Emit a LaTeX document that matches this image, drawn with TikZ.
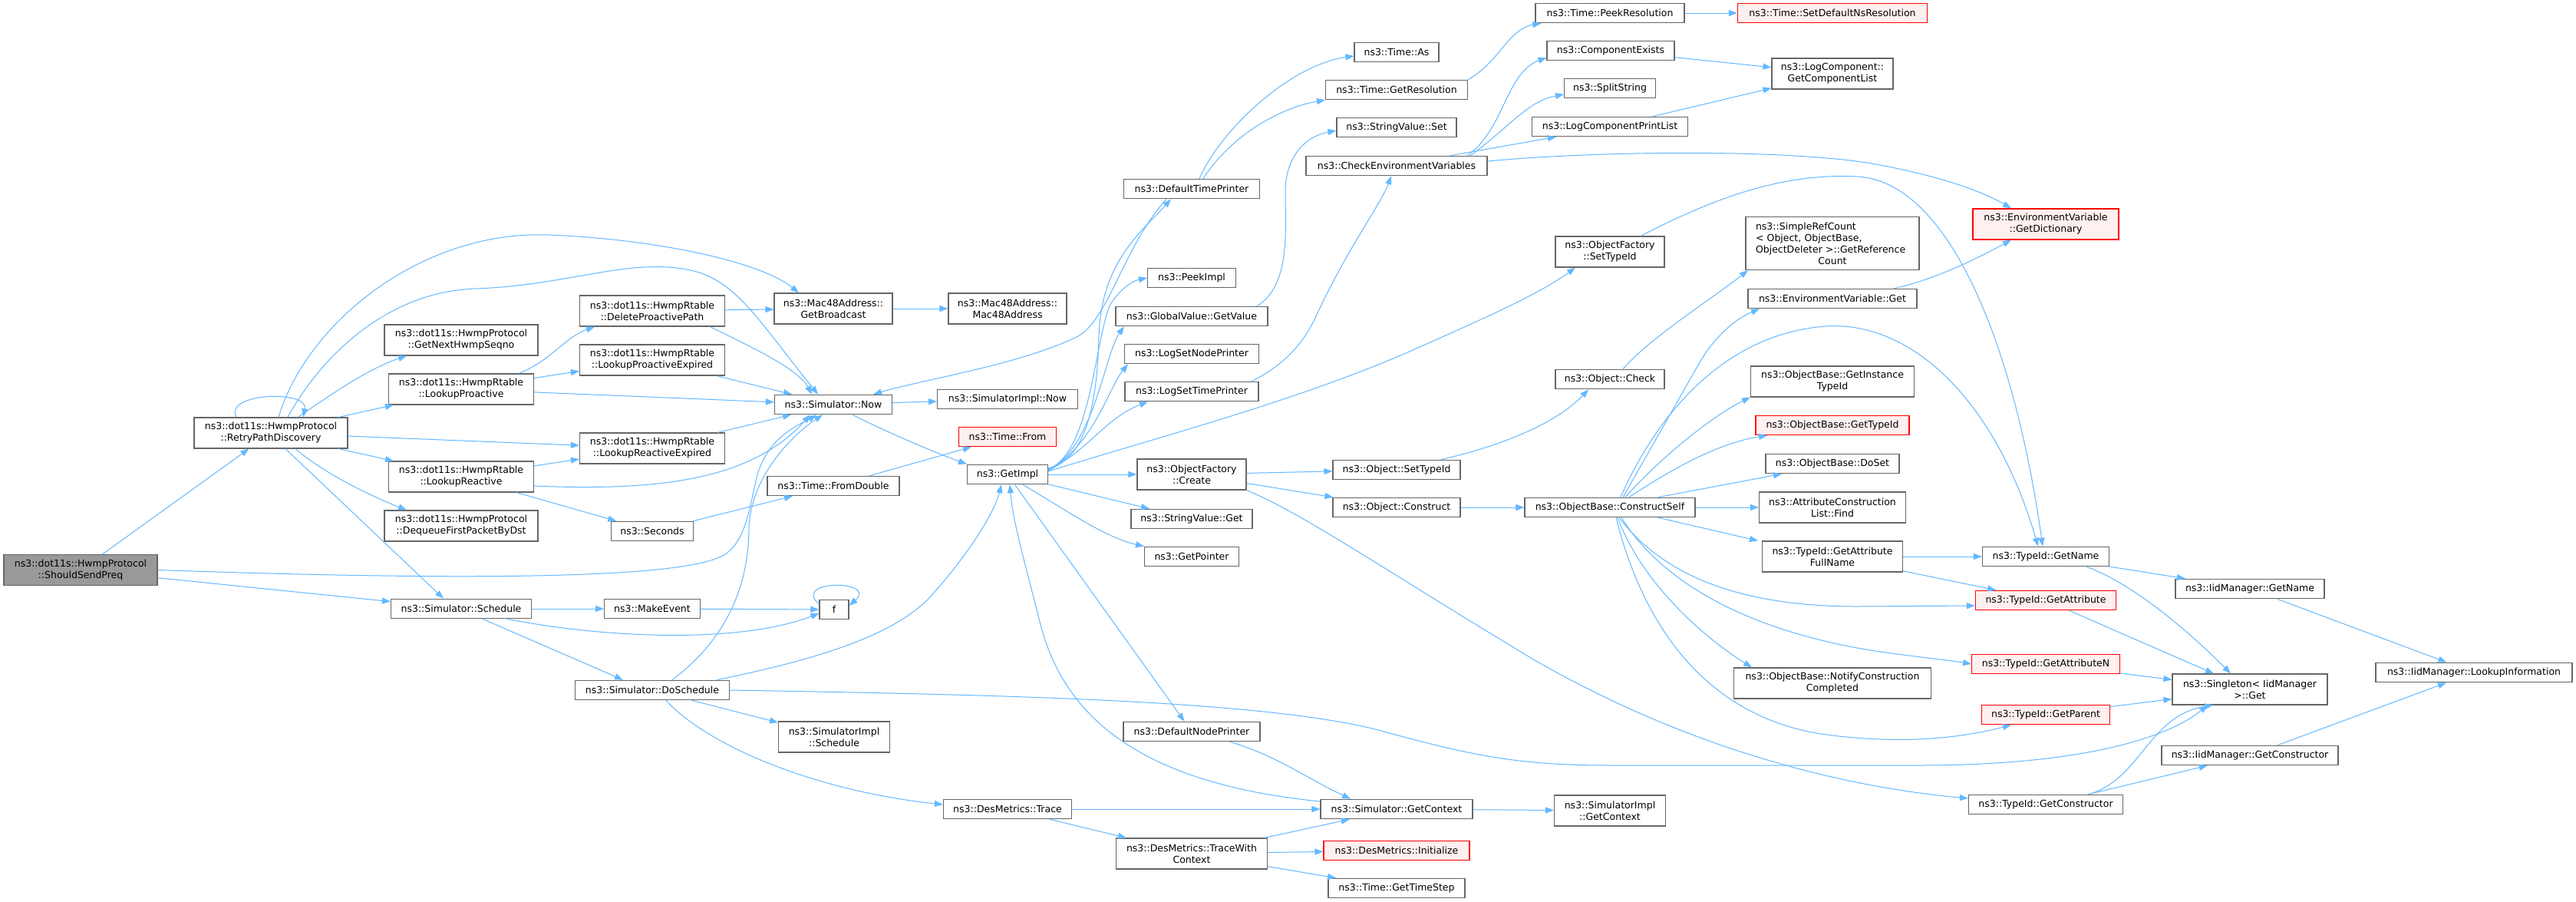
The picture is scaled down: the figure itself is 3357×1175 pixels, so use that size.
\documentclass[tikz,border=0pt]{standalone}
\usepackage{fontspec}
\setmainfont{DejaVu Sans}
\usetikzlibrary{arrows.meta}
\definecolor{edgec}{HTML}{63B8FF}
\definecolor{ndb}{HTML}{666666}
\definecolor{rootf}{HTML}{999999}
\definecolor{redb}{HTML}{FF0000}
\definecolor{redf}{HTML}{FFF0F0}
\tikzset{
  nd/.style={draw=ndb, fill=white, line width=1.1pt, rectangle, minimum height=25.5pt, inner sep=3pt, align=center, font=\fontsize{12.5}{15}\selectfont},
  two/.style={minimum height=40pt},
  rnd/.style={draw=redb, fill=redf},
  rootnd/.style={fill=rootf},
  edg/.style={draw=edgec, line width=1pt, -{Triangle[length=11pt,width=8pt]}}
}
\begin{document}
\begin{tikzpicture}[x=1pt,y=-1pt]
\useasboundingbox (0,0) rectangle (3357,1175);
\fill[white] (0,0) rectangle (3357,1175);
% rank 0-2
\node[nd,two,rootnd,minimum width=200pt] (ssp) at (105,742.5) {ns3::dot11s::HwmpProtocol\\::ShouldSendPreq};
\node[nd,two,minimum width=200pt] (rpd) at (353,564) {ns3::dot11s::HwmpProtocol\\::RetryPathDiscovery};
\node[nd,two,minimum width=200pt] (gnh) at (601,443) {ns3::dot11s::HwmpProtocol\\::GetNextHwmpSeqno};
\node[nd,two,minimum width=189pt] (lp) at (601,507) {ns3::dot11s::HwmpRtable\\::LookupProactive};
\node[nd,two,minimum width=189pt] (lr) at (601,621) {ns3::dot11s::HwmpRtable\\::LookupReactive};
\node[nd,two,minimum width=200pt] (dq) at (601,685) {ns3::dot11s::HwmpProtocol\\::DequeueFirstPacketByDst};
\node[nd,minimum width=183pt] (sch) at (601,793) {ns3::Simulator::Schedule};
% rank 3
\node[nd,two,minimum width=189pt] (dpp) at (850,405) {ns3::dot11s::HwmpRtable\\::DeleteProactivePath};
\node[nd,two,minimum width=189pt] (lpe) at (850,469) {ns3::dot11s::HwmpRtable\\::LookupProactiveExpired};
\node[nd,two,minimum width=189pt] (lre) at (850,584) {ns3::dot11s::HwmpRtable\\::LookupReactiveExpired};
\node[nd,minimum width=107pt] (sec) at (850,692) {ns3::Seconds};
\node[nd,minimum width=125pt] (mke) at (850,793) {ns3::MakeEvent};
\node[nd,minimum width=201pt] (dos) at (850,899) {ns3::Simulator::DoSchedule};
% rank 4
\node[nd,two,minimum width=154pt] (gb) at (1086,402) {ns3::Mac48Address::\\GetBroadcast};
\node[nd,minimum width=153pt] (now) at (1086,527) {ns3::Simulator::Now};
\node[nd,minimum width=172pt] (fd) at (1086,633) {ns3::Time::FromDouble};
\node[nd,minimum width=38pt] (f) at (1087,794) {f};
\node[nd,two,minimum width=145pt] (sis) at (1087,960) {ns3::SimulatorImpl\\::Schedule};
% rank 5
\node[nd,two,minimum width=154pt] (mac) at (1313,402) {ns3::Mac48Address::\\Mac48Address};
\node[nd,minimum width=183pt] (sin) at (1313,520) {ns3::SimulatorImpl::Now};
\node[nd,rnd,minimum width=127pt] (tf) at (1313,569) {ns3::Time::From};
\node[nd,minimum width=105pt] (gi) at (1313,618) {ns3::GetImpl};
\node[nd,minimum width=167pt] (dmt) at (1313,1054) {ns3::DesMetrics::Trace};
% rank 6
\node[nd,minimum width=177pt] (dtp) at (1553,246) {ns3::DefaultTimePrinter};
\node[nd,minimum width=115pt] (pi) at (1553,362) {ns3::PeekImpl};
\node[nd,minimum width=198pt] (gv) at (1553,412) {ns3::GlobalValue::GetValue};
\node[nd,minimum width=175pt] (lsn) at (1553,461) {ns3::LogSetNodePrinter};
\node[nd,minimum width=174pt] (lst) at (1553,510) {ns3::LogSetTimePrinter};
\node[nd,two,minimum width=142pt] (ofc) at (1553,618) {ns3::ObjectFactory\\::Create};
\node[nd,minimum width=158pt] (svg) at (1553,676) {ns3::StringValue::Get};
\node[nd,minimum width=123pt] (gp) at (1553,725) {ns3::GetPointer};
\node[nd,minimum width=178pt] (dnp) at (1553,953) {ns3::DefaultNodePrinter};
\node[nd,two,minimum width=197pt] (twc) at (1553,1112) {ns3::DesMetrics::TraceWith\\Context};
% rank 7
\node[nd,minimum width=110pt] (tas) at (1820,68) {ns3::Time::As};
\node[nd,minimum width=185pt] (tgr) at (1820,117) {ns3::Time::GetResolution};
\node[nd,minimum width=156pt] (svs) at (1820,166) {ns3::StringValue::Set};
\node[nd,minimum width=236pt] (cev) at (1820,216) {ns3::CheckEnvironmentVariables};
\node[nd,minimum width=166pt] (ost) at (1820,612) {ns3::Object::SetTypeId};
\node[nd,minimum width=166pt] (oc) at (1820,661) {ns3::Object::Construct};
\node[nd,minimum width=198pt] (sgc) at (1820,1054) {ns3::Simulator::GetContext};
\node[nd,rnd,minimum width=190pt] (dmi) at (1820,1108) {ns3::DesMetrics::Initialize};
\node[nd,minimum width=178pt] (gts) at (1820,1157) {ns3::Time::GetTimeStep};
% rank 8
\node[nd,minimum width=194pt] (tpr) at (2098,17) {ns3::Time::PeekResolution};
\node[nd,minimum width=166pt] (ce) at (2099,66) {ns3::ComponentExists};
\node[nd,minimum width=119pt] (ss) at (2098,115) {ns3::SplitString};
\node[nd,minimum width=203pt] (lcp) at (2098,165) {ns3::LogComponentPrintList};
\node[nd,two,minimum width=142pt] (ofs) at (2098,328) {ns3::ObjectFactory\\::SetTypeId};
\node[nd,minimum width=142pt] (och) at (2098,494) {ns3::Object::Check};
\node[nd,minimum width=222pt] (cs) at (2098,661) {ns3::ObjectBase::ConstructSelf};
\node[nd,two,minimum width=145pt] (sig) at (2098,1056) {ns3::SimulatorImpl\\::GetContext};
% rank 9
\node[nd,rnd,minimum width=247pt] (sdn) at (2388,17) {ns3::Time::SetDefaultNsResolution};
\node[nd,two,minimum width=158pt] (gcl) at (2388,96) {ns3::LogComponent::\\GetComponentList};
\node[nd,minimum height=69pt,text width=200pt,inner xsep=13pt,align=left] (src) at (2388,317) {ns3::SimpleRefCount\\{}< Object, ObjectBase,\\ObjectDeleter >::GetReference\\\hfill Count\hfill\null};
\node[nd,minimum width=220pt] (evg) at (2388,389) {ns3::EnvironmentVariable::Get};
\node[nd,two,minimum width=213pt] (git) at (2388,497) {ns3::ObjectBase::GetInstance\\TypeId};
\node[nd,rnd,minimum width=200pt] (gti) at (2388,554) {ns3::ObjectBase::GetTypeId};
\node[nd,minimum width=174pt] (dos2) at (2388,604) {ns3::ObjectBase::DoSet};
\node[nd,two,minimum width=191pt] (acl) at (2388,661) {ns3::AttributeConstruction\\List::Find};
\node[nd,two,minimum width=183pt] (gaf) at (2388,725) {ns3::TypeId::GetAttribute\\FullName};
\node[nd,two,minimum width=257pt] (ncc) at (2388,890) {ns3::ObjectBase::NotifyConstruction\\Completed};
% rank 10
\node[nd,two,rnd,minimum width=190pt] (gd) at (2666,292) {ns3::EnvironmentVariable\\::GetDictionary};
\node[nd,minimum width=165pt] (gn) at (2666,725) {ns3::TypeId::GetName};
\node[nd,rnd,minimum width=183pt] (ga) at (2666,782) {ns3::TypeId::GetAttribute};
\node[nd,rnd,minimum width=193pt] (gan) at (2666,865) {ns3::TypeId::GetAttributeN};
\node[nd,rnd,minimum width=167pt] (gpar) at (2666,931) {ns3::TypeId::GetParent};
\node[nd,minimum width=201pt] (tgc) at (2666,1048) {ns3::TypeId::GetConstructor};
% rank 11-12
\node[nd,minimum width=194pt] (ign) at (2932,767) {ns3::IidManager::GetName};
\node[nd,two,minimum width=202pt] (sgt) at (2932,898) {ns3::Singleton< IidManager\\ >::Get};
\node[nd,minimum width=230pt] (igc) at (2932,984) {ns3::IidManager::GetConstructor};
\node[nd,minimum width=256pt] (lki) at (3224,876) {ns3::IidManager::LookupInformation};

% ---------------- edges ----------------
\draw[edg] (ssp) -- (rpd);
\draw[edg] (ssp.east) .. controls (650,758) and (900,752) .. (945,722) .. controls (975,702) and (978,650) .. (988,615) .. controls (1005,565) and (1045,552) .. ([xshift=-22pt]now.south);
\draw[edg] (ssp) -- (sch);
\draw[edg] ([xshift=-45pt]rpd.north) .. controls ([xshift=-62pt,yshift=32pt]rpd.north) and ([xshift=50pt,yshift=36pt]rpd.north) .. ([xshift=42pt]rpd.north);
\draw[edg] ([xshift=10pt]rpd.north) .. controls (400,420) and (550,300) .. (714,306) .. controls (850,311) and (990,340) .. ([xshift=-45pt]gb.north);
\draw[edg] ([xshift=22pt]rpd.north) .. controls (415,470) and (500,380) .. (620,376) .. controls (740,372) and (820,335) .. (900,352) .. controls (960,365) and (990,420) .. ([xshift=-20pt]now.north);
\draw[edg] ([xshift=35pt]rpd.north) .. controls (430,515) and (480,480) .. ([xshift=-71pt]gnh.south);
\draw[edg] ([xshift=88pt]rpd.north) -- ([xshift=-88pt]lp.south);
\draw[edg] (rpd) -- (lre);
\draw[edg] ([xshift=88pt]rpd.south) -- ([xshift=-88pt]lr.north);
\draw[edg] ([xshift=32pt]rpd.south) .. controls (420,615) and (480,645) .. ([xshift=-71pt]dq.north);
\draw[edg] ([xshift=19pt]rpd.south) -- ([xshift=-23pt]sch.north);
\draw[edg] ([xshift=75pt]lp.north) .. controls (718,470) and (735,440) .. ([xshift=-75pt]dpp.south);
\draw[edg] (lp) -- (lpe);
\draw[edg] (lp) -- (now);
\draw[edg] (lr) -- (lre);
\draw[edg] ([yshift=-12pt]lr.east) .. controls (860,640) and (980,625) .. ([xshift=-30pt]now.south);
\draw[edg] (lr) -- (sec);
\draw[edg] (dpp) -- (gb);
\draw[edg] ([xshift=75pt]dpp.south) .. controls (975,450) and (1040,480) .. ([xshift=-28pt]now.north);
\draw[edg] (lpe) -- (now);
\draw[edg] (lre) -- (now);
\draw[edg] (gb) -- (mac);
\draw[edg] (sec) -- (fd);
\draw[edg] (fd) -- (tf);
\draw[edg] (now) -- (sin);
\draw[edg] ([xshift=25pt]now.south) .. controls (1160,565) and (1220,590) .. (gi.north west);
\draw[edg] (sch) -- (mke);
\draw[edg] ([xshift=60pt]sch.south) .. controls (780,830) and (960,840) .. ([yshift=-5pt]f.west);
\draw[edg] (mke) -- (f);
\draw[edg] ([yshift=7pt]f.west) .. controls (1030,755) and (1145,755) .. ([yshift=5pt]f.east);
\draw[edg] ([xshift=28pt]sch.south) -- ([xshift=-38pt]dos.north);
\draw[edg] ([xshift=26pt]dos.north) .. controls (950,830) and (975,760) .. (976,690) .. controls (977,620) and (1035,565) .. ([xshift=-14pt]now.south);
\draw[edg] ([xshift=84pt]dos.north) .. controls (1060,860) and (1160,830) .. (1210,780) .. controls (1260,725) and (1295,670) .. ([xshift=-8pt]gi.south);
\draw[edg] (dos) -- (sis);
\draw[edg] ([xshift=18pt]dos.south) .. controls (920,970) and (1060,1030) .. ([yshift=6pt]dmt.west);
\draw[edg] (dos.east) .. controls (1300,905) and (1650,912) .. (1800,952) .. controls (1920,985) and (1980,997) .. (2100,997) -- (2500,997) .. controls (2700,997) and (2820,965) .. ([xshift=-55pt]sgt.south);
% GetImpl bundle
\draw[edg] ([yshift=8pt]gi.east) .. controls (1420,598) and (1430,510) .. (1432,440) .. controls (1434,340) and (1490,300) .. ([xshift=-27pt]dtp.south);
\draw[edg] ([xshift=-33pt]dtp.south) .. controls (1465,320) and (1445,415) .. (1405,438) .. controls (1330,475) and (1200,495) .. ([xshift=52pt]now.north);
\draw[edg] ([yshift=7pt]gi.east) .. controls (1425,590) and (1428,420) .. (1450,392) .. controls (1462,375) and (1476,366) .. (pi.west);
\draw[edg] ([yshift=6pt]gi.east) .. controls (1425,585) and (1440,460) .. ([xshift=-88pt]gv.south);
\draw[edg] ([yshift=5pt]gi.east) .. controls (1425,580) and (1445,505) .. ([xshift=-83pt]lsn.south);
\draw[edg] ([yshift=5pt]gi.east) .. controls (1420,585) and (1440,545) .. ([xshift=-57pt]lst.south);
\draw[edg] ([yshift=4pt]gi.east) .. controls (1500,572) and (1700,520) .. (1850,452) .. controls (1950,408) and (2010,380) .. ([xshift=-45pt]ofs.south);
\draw[edg] (gi) -- (ofc);
\draw[edg] (gi) -- (svg);
\draw[edg] ([xshift=20pt]gi.south) .. controls (1390,665) and (1440,700) .. (gp.north west);
\draw[edg] (gi) -- (dnp);
\draw[edg] ([yshift=10pt]sgc.west) .. controls (1480,1020) and (1385,930) .. (1355,810) .. controls (1335,730) and (1320,680) .. ([xshift=3pt]gi.south);
\draw[edg] (sgc) -- (sig);
\draw[edg] ([xshift=50pt]dnp.south) .. controls (1665,985) and (1705,1015) .. ([xshift=-60pt]sgc.north);
\draw[edg] (dmt) -- (sgc);
\draw[edg] (dmt) -- (twc);
\draw[edg] (twc) -- (sgc);
\draw[edg] (twc) -- (dmi);
\draw[edg] (twc) -- (gts);
% upper middle
\draw[edg] ([xshift=10pt]dtp.north) .. controls (1590,170) and (1680,85) .. ([yshift=-5pt]tas.west);
\draw[edg] ([xshift=15pt]dtp.north) .. controls (1605,175) and (1670,140) .. (tgr.south west);
\draw[edg] (tgr.north east) .. controls (1955,80) and (1965,38) .. ([xshift=8pt]tpr.south west);
\draw[edg] (tpr) -- (sdn);
\draw[edg] ([xshift=85pt]gv.north) .. controls (1682,372) and (1675,300) .. (1675,250) .. controls (1675,205) and (1700,178) .. ([yshift=-4pt]svs.west);
\draw[edg] ([xshift=78pt]lst.north) .. controls (1675,475) and (1700,445) .. (1715,412) .. controls (1755,325) and (1800,265) .. ([xshift=-7pt]cev.south);
\draw[edg] ([xshift=92pt]cev.north) .. controls (1960,170) and (1962,95) .. ([yshift=-9pt]ce.west);
\draw[edg] ([xshift=96pt]cev.north) .. controls (1968,165) and (1990,132) .. ([yshift=-8pt]ss.west);
\draw[edg] ([xshift=70pt]cev.north) -- ([xshift=-70pt]lcp.south);
\draw[edg] ([yshift=6pt]cev.east) .. controls (2100,195) and (2350,195) .. (2450,215) .. controls (2530,230) and (2585,250) .. ([xshift=-45pt]gd.north);
\draw[edg] (ce) -- (gcl);
\draw[edg] (lcp) -- (gcl);
\draw[edg] ([xshift=40pt]ofs.north) .. controls (2230,260) and (2320,225) .. (2420,230) .. controls (2540,236) and (2625,450) .. ([xshift=-4pt]gn.north);
% objects
\draw[edg] ([xshift=58pt]ost.north) .. controls (1960,580) and (2030,550) .. ([xshift=-28pt]och.south);
\draw[edg] ([xshift=17pt]och.north) .. controls (2150,440) and (2230,390) .. ([xshift=-110pt]src.south);
\draw[edg] (ofc) -- (ost);
\draw[edg] (ofc) -- (oc);
\draw[edg] (ofc.south east) .. controls (1700,670) and (1800,740) .. (2000,860) .. controls (2200,975) and (2400,1025) .. ([yshift=8pt]tgc.west);
\draw[edg] (oc) -- (cs);
\draw[edg] ([xshift=17pt]cs.north) -- (2215,472) .. controls (2235,438) and (2262,415) .. ([xshift=-95pt]evg.south);
\draw[edg] ([xshift=20pt]cs.north) .. controls (2170,590) and (2235,540) .. (git.south west);
\draw[edg] ([xshift=25pt]cs.north) .. controls (2180,610) and (2240,577) .. ([xshift=-85pt]gti.south);
\draw[edg] ([xshift=63pt]cs.north) -- ([xshift=-66pt]dos2.south);
\draw[edg] (cs) -- (acl);
\draw[edg] ([xshift=63pt]cs.south) -- ([xshift=-97pt]gaf.north);
\draw[edg] ([xshift=10pt]cs.south) .. controls (2140,760) and (2220,830) .. ([xshift=-105pt]ncc.north);
\draw[edg] ([xshift=14pt]cs.north) .. controls (2150,560) and (2235,435) .. (2380,425) .. controls (2490,418) and (2600,520) .. ([xshift=-10pt]gn.north);
\draw[edg] ([xshift=12pt]cs.south) .. controls (2160,740) and (2250,790) .. (2420,790) -- ([yshift=-7pt]ga.west);
\draw[edg] ([xshift=15pt]cs.south) .. controls (2170,765) and (2290,825) .. (2450,849) .. controls (2500,856) and (2540,860) .. (gan.west);
\draw[edg] ([xshift=8pt]cs.south) .. controls (2140,810) and (2220,935) .. (2380,957) .. controls (2500,973) and (2580,955) .. ([xshift=-45pt]gpar.south);
\draw[edg] ([xshift=80pt]evg.north) .. controls (2520,365) and (2580,335) .. ([xshift=-45pt]gd.south);
\draw[edg] (gaf) -- (gn);
\draw[edg] (gaf) -- (ga);
\draw[edg] (gn) -- (ign);
\draw[edg] ([xshift=53pt]gn.south) .. controls (2780,760) and (2855,825) .. ([xshift=-25pt]sgt.north);
\draw[edg] (ga) -- (sgt);
\draw[edg] (gan) -- (sgt);
\draw[edg] (gpar) -- (sgt);
\draw[edg] ([xshift=56pt]tgc.north) .. controls (2790,1015) and (2800,932) .. ([xshift=-48pt]sgt.south);
\draw[edg] (tgc) -- (igc);
\draw[edg] (ign) -- (lki);
\draw[edg] (igc) -- (lki);
\end{tikzpicture}
\end{document}
